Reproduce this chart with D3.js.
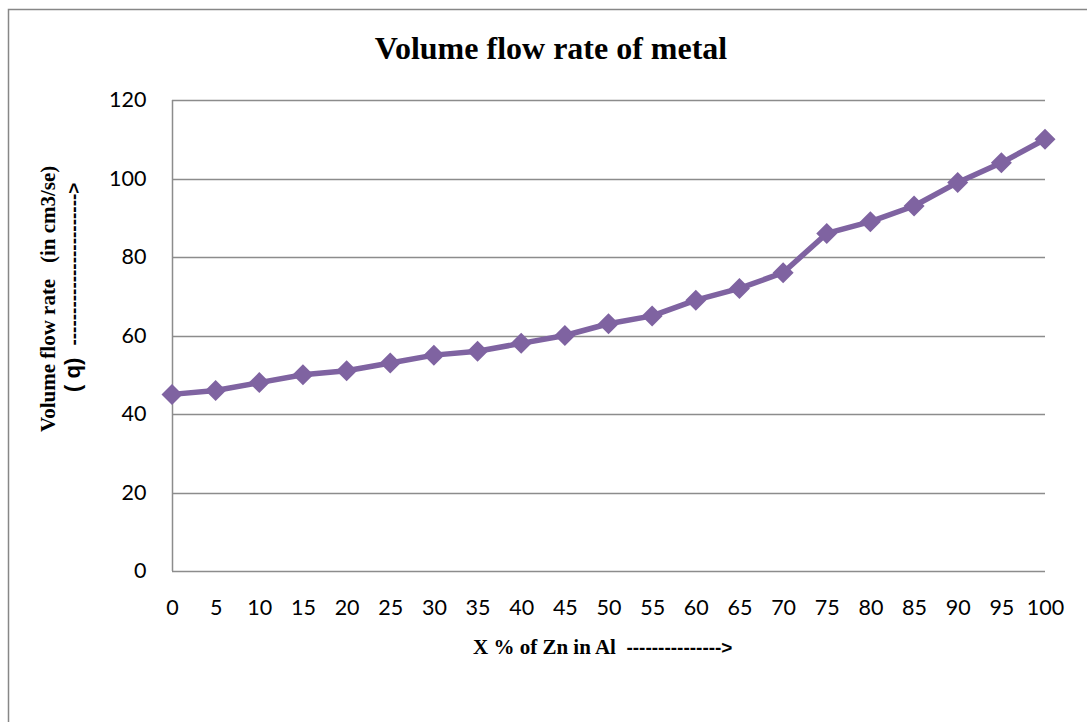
<!DOCTYPE html>
<html><head><meta charset="utf-8">
<script src="https://cdn.jsdelivr.net/npm/d3@7"></script>
<style>body{margin:0;background:#fff}svg{display:block}text{white-space:pre}</style>
</head><body><svg id="c" width="1087" height="722"></svg>
<script>
const categories = [0,5,10,15,20,25,30,35,40,45,50,55,60,65,70,75,80,85,90,95,100];
const flowRate = [45,46,48,50,51,53,55,56,58,60,63,65,69,72,76,86,89,93,99,104,110];
const yTicks = [0,20,40,60,80,100,120];
const title = "Volume flow rate of metal";
const xTitleA = "X % of Zn in Al  ";
const xTitleB = "--------------->";
const yTitle1 = "Volume flow rate   (in cm3/se)";
const yTitle2a = "( q)  ";
const yTitle2b = "------------------------>";

const svg = d3.select("#c");
svg.append("rect").attr("x",8.5).attr("y",9.5).attr("width",1200).attr("height",800)
  .attr("fill","none").attr("stroke","#878787").attr("stroke-width",1.5);

const x = d3.scaleLinear().domain([0,100]).range([172,1045]);
const y = d3.scaleLinear().domain([0,120]).range([571,100]);

svg.append("g").selectAll("line").data(yTicks.filter(d=>d>0)).join("line")
  .attr("x1",172).attr("x2",1045).attr("y1",d=>Math.round(y(d))+0.5).attr("y2",d=>Math.round(y(d))+0.5)
  .attr("stroke","#8c8c8c").attr("stroke-width",1.5);

const ya = svg.append("g").attr("transform","translate(172.5,0)")
  .call(d3.axisLeft(y).tickValues(yTicks).tickSize(0).tickPadding(26));
ya.select(".domain").attr("stroke","#8c8c8c").attr("stroke-width",1.5).attr("d",`M0,${y(120)}V${y(0)}`);
ya.selectAll("text").attr("font-family","Lato, 'Open Sans', sans-serif").attr("font-size",21.5).attr("fill","#000");

const xa = svg.append("g").attr("transform",`translate(0,${Math.round(y(0))+0.5})`)
  .call(d3.axisBottom(x).tickValues(categories).tickSize(0).tickPadding(28).tickFormat(d3.format("d")));
xa.select(".domain").attr("stroke","#8c8c8c").attr("stroke-width",1.5).attr("d",`M${x(0)},0H${x(100)}`);
xa.selectAll("text").attr("font-family","Lato, 'Open Sans', sans-serif").attr("font-size",21.5).attr("fill","#000");

const pts = categories.map((c,i)=>[c,flowRate[i]]);
svg.append("path").datum(pts)
  .attr("d",d3.line().x(d=>x(d[0])).y(d=>y(d[1])))
  .attr("fill","none").attr("stroke","#7f63a1").attr("stroke-width",5.5).attr("stroke-linejoin","round");
svg.append("g").selectAll("path").data(pts).join("path")
  .attr("transform",d=>`translate(${x(d[0])},${y(d[1])})`)
  .attr("d","M0,-10.5L10.5,0L0,10.5L-10.5,0Z").attr("fill","#7f63a1");

const serif = "'Liberation Serif','Times New Roman',serif";
const sans = "'Liberation Sans',Arial,sans-serif";
svg.append("text").attr("x",551).attr("y",59).attr("text-anchor","middle")
  .attr("font-family",serif).attr("font-weight","bold").attr("font-size",32)
  .text(title);
const xt = svg.append("text").attr("x",473).attr("y",654).attr("font-weight","bold");
xt.append("tspan").attr("font-family",serif).attr("font-size",21).text(xTitleA);
xt.append("tspan").attr("font-family",sans).attr("font-size",19).text(xTitleB);
svg.append("text").attr("transform","translate(55,432) rotate(-90)")
  .attr("font-family",serif).attr("font-weight","bold").attr("font-size",21)
  .text(yTitle1);
const t2 = svg.append("text").attr("transform","translate(80,392) rotate(-90)").attr("font-weight","bold");
t2.append("tspan").attr("font-family",sans).attr("font-size",22).text(yTitle2a);
t2.append("tspan").attr("font-family",sans).attr("font-size",19).text(yTitle2b);
</script></body></html>
